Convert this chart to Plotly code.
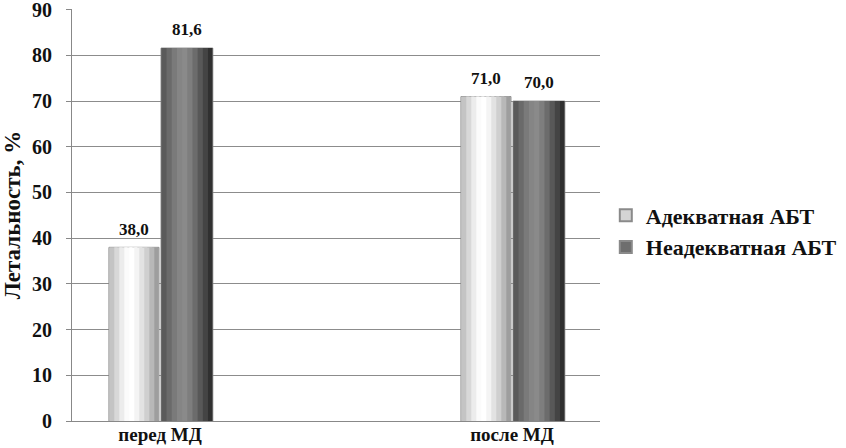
import plotly.graph_objects as go

categories = ["перед МД", "после МД"]
series_names = ["Адекватная АБТ", "Неадекватная АБТ"]
adequate = [38.0, 71.0]
inadequate = [81.6, 70.0]
y_ticks = [0, 10, 20, 30, 40, 50, 60, 70, 80, 90]

FONT = "Liberation Serif, Times New Roman, serif"

# horizontal shading strips (left -> right) to imitate the bevelled bars
light_strips = ["#c4c4c4", "#d8d8d8", "#ececec", "#fbfbfb", "#ffffff", "#f4f4f4",
                "#e2e2e2", "#cfcfcf", "#b8b8b8", "#9e9e9e"]
dark_strips = ["#5a5a5a", "#6a6a6a", "#7a7a7a", "#858585", "#8a8a8a", "#7e7e7e",
               "#6c6c6c", "#585858", "#444444", "#303030"]

xpos = list(range(len(categories)))

fig = go.Figure()

def add_series(values, name, offset, width, strips, legend_color):
    n = len(strips)
    sw = width / n
    fig.add_trace(go.Bar(
        x=xpos, y=values, name=name, offset=offset, width=width,
        marker=dict(color=legend_color, line=dict(color="#8a8a8a", width=1)),
        showlegend=True, hoverinfo="skip"))
    for i, c in enumerate(strips):
        w = sw * 1.6 if i < n - 1 else sw
        fig.add_trace(go.Bar(
            x=xpos, y=values, offset=offset + i * sw + 0.001,
            width=min(w, width - i * sw - 0.002),
            marker=dict(color=c, line=dict(width=0)), showlegend=False,
            hoverinfo="skip"))
    fig.add_trace(go.Scatter(
        x=[p + offset + width / 2 for p in xpos], y=values, mode="markers+text",
        marker=dict(size=12, color="rgba(0,0,0,0)"),
        text=[f"{v:.1f}".replace(".", ",") for v in values],
        textposition="top center", cliponaxis=False,
        textfont=dict(family=FONT, size=17, color="#111111", weight="bold"),
        showlegend=False, hoverinfo="skip"))

add_series(adequate, series_names[0], -0.145, 0.142, light_strips, "#d4d4d4")
add_series(inadequate, series_names[1], 0.003, 0.147, dark_strips, "#6e6e6e")

fig.update_layout(
    width=846, height=448,
    margin=dict(l=72, r=246, t=9, b=27, autoexpand=False),
    barmode="overlay",
    paper_bgcolor="white", plot_bgcolor="white",
    font=dict(family=FONT, color="#111111", weight="bold"),
    showlegend=True,
    legend=dict(x=1.011, y=0.46, xanchor="left", yanchor="middle",
                font=dict(family=FONT, size=22, color="#111111", weight="bold"),
                itemsizing="constant", tracegroupgap=0,
                bgcolor="rgba(0,0,0,0)"),
)
fig.update_xaxes(
    range=[-0.25, 1.25], automargin=False,
    tickvals=xpos, ticktext=categories,
    showline=True, linecolor="#888888", linewidth=1,
    ticks="", showgrid=False, zeroline=False, ticklabelstandoff=-4,
    tickfont=dict(family=FONT, size=19, color="#111111", weight="bold"),
)
fig.update_yaxes(
    range=[0, 90.15], tickvals=y_ticks, ticktext=[str(t) for t in y_ticks],
    automargin=False, ticklabeloverflow="allow",
    showline=True, linecolor="#888888", linewidth=1,
    ticks="outside", ticklen=5, tickcolor="#888888", ticklabelstandoff=10,
    showgrid=True, gridcolor="#8c8c8c", gridwidth=1,
    tickfont=dict(family=FONT, size=20, color="#111111", weight="bold"),
    title=dict(text="Летальность, %",
               font=dict(family=FONT, size=23, color="#111111", weight="bold"),
               standoff=10),
    zeroline=False,
)

fig.write_html("out.html", config={"displayModeBar": False},
               post_script="document.body.style.margin='0px';")
